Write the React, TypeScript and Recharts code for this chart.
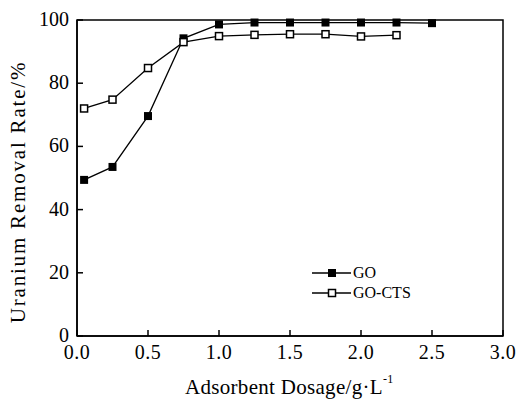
import React from "react";
import { LineChart, Line, XAxis, YAxis, ReferenceArea } from "recharts";

const dosage = [0.05, 0.25, 0.5, 0.75, 1.0, 1.25, 1.5, 1.75, 2.0, 2.25, 2.5];
const goValues = [49.4, 53.5, 69.6, 94.2, 98.6, 99.2, 99.2, 99.2, 99.2, 99.2, 99.0];
const goCtsValues = [72.0, 74.8, 84.8, 93.0, 94.9, 95.3, 95.5, 95.5, 94.8, 95.2, null];
const xTicks = [0, 0.5, 1.0, 1.5, 2.0, 2.5, 3.0];
const yTicks = [0, 20, 40, 60, 80, 100];

const data = dosage.map((d, i) => ({ x: d, go: goValues[i], cts: goCtsValues[i] }));

const FONT = "'Liberation Serif', 'Times New Roman', serif";

const FilledSquare = (props: any) => {
  const { cx, cy } = props;
  if (cx == null || cy == null) return null;
  return <rect x={cx - 4} y={cy - 4} width={8} height={8} fill="#000" stroke="none" />;
};
const OpenSquare = (props: any) => {
  const { cx, cy } = props;
  if (cx == null || cy == null) return null;
  return <rect x={cx - 3.5} y={cy - 3.5} width={7} height={7} fill="#fff" stroke="#000" strokeWidth={1.5} />;
};

const XTick = (props: any) => {
  const { x, y, payload } = props;
  return (
    <g>
      <line x1={x} y1={y} x2={x} y2={y - 6} stroke="#000" strokeWidth={1.5} />
      <text x={x} y={y + 23} textAnchor="middle" fill="#000" fontFamily={FONT} fontSize={20} letterSpacing={0.5}>
        {Number(payload.value).toFixed(1)}
      </text>
    </g>
  );
};

const YTick = (props: any) => {
  const { x, y, payload } = props;
  return (
    <g>
      <line x1={x} y1={y} x2={x + 6} y2={y} stroke="#000" strokeWidth={1.5} />
      <text x={x - 8} y={y + 6} textAnchor="end" fill="#000" fontFamily={FONT} fontSize={20}>
        {payload.value}
      </text>
    </g>
  );
};

const legendItems = [
  { name: "GO", filled: true },
  { name: "GO-CTS", filled: false },
];

export default function App() {
  return (
    <div style={{ position: "absolute", left: 0, top: 0, width: 522, height: 400, background: "#fff" }}>
      <LineChart
        width={522}
        height={400}
        data={data}
        margin={{ top: 20, right: 19, bottom: 0, left: 0 }}
      >
        <XAxis
          dataKey="x"
          type="number"
          domain={[0, 3]}
          ticks={xTicks}
          height={64}
          tickSize={0}
          tickMargin={0}
          tickLine={false}
          axisLine={{ stroke: "#000", strokeWidth: 1.5 }}
          tick={<XTick />}
          interval={0}
        />
        <YAxis
          type="number"
          domain={[0, 100]}
          ticks={yTicks}
          width={77}
          tickSize={0}
          tickMargin={0}
          tickLine={false}
          axisLine={{ stroke: "#000", strokeWidth: 1.5 }}
          tick={<YTick />}
          interval={0}
        />
        <ReferenceArea
          x1={0}
          x2={3}
          y1={0}
          y2={100}
          fill="none"
          fillOpacity={0}
          stroke="#000"
          strokeWidth={1.5}
          ifOverflow="visible"
        />
        <Line
          dataKey="go"
          stroke="#000"
          strokeWidth={1.3}
          dot={<FilledSquare />}
          activeDot={false}
          isAnimationActive={false}
        />
        <Line
          dataKey="cts"
          stroke="#000"
          strokeWidth={1.3}
          dot={<OpenSquare />}
          activeDot={false}
          isAnimationActive={false}
          connectNulls={false}
        />
      </LineChart>
      <div
        style={{
          position: "absolute",
          left: 312,
          top: 263,
          fontFamily: FONT,
          fontSize: 16,
          color: "#000",
          lineHeight: "20px",
        }}
      >
        {legendItems.map((it) => (
          <div key={it.name} style={{ display: "flex", alignItems: "center", height: 20 }}>
            <svg width={40} height={20} style={{ display: "block" }}>
              <line x1={0} y1={10} x2={39} y2={10} stroke="#000" strokeWidth={1.5} />
              {it.filled ? (
                <rect x={16} y={6} width={8} height={8} fill="#000" />
              ) : (
                <rect x={16.5} y={6.5} width={7} height={7} fill="#fff" stroke="#000" strokeWidth={1.5} />
              )}
            </svg>
            <span style={{ marginLeft: 1 }}>{it.name}</span>
          </div>
        ))}
      </div>
      <div
        style={{
          position: "absolute",
          left: 185,
          top: 377,
          whiteSpace: "nowrap",
          fontFamily: FONT,
          fontSize: 21,
          color: "#000",
          lineHeight: "21px",
          letterSpacing: 0.3,
        }}
      >
        Adsorbent Dosage/g·L<sup style={{ fontSize: 12, verticalAlign: 0, position: "relative", top: -11 }}>-1</sup>
      </div>
      <div
        style={{
          position: "absolute",
          left: 18,
          top: 192,
          transform: "translate(-50%, -50%) rotate(-90deg)",
          whiteSpace: "nowrap",
          fontFamily: FONT,
          fontSize: 21,
          color: "#000",
          lineHeight: "22px",
          letterSpacing: 1.8,
        }}
      >
        Uranium Removal Rate/%
      </div>
    </div>
  );
}
